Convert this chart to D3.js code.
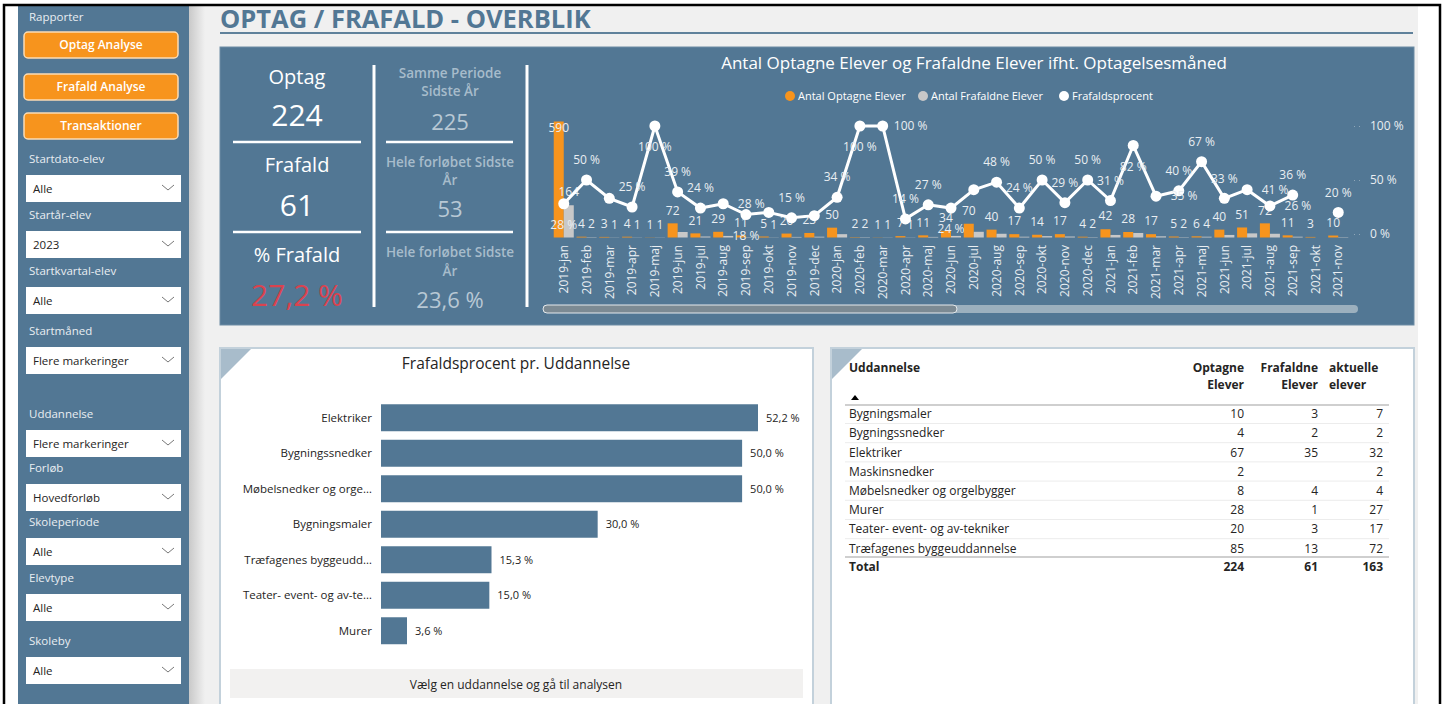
<!DOCTYPE html>
<html>
<head>
<meta charset="utf-8">
<script src="https://cdn.jsdelivr.net/npm/d3@7"></script>
<style>
body{margin:0;background:#fff;}
svg{display:block;font-family:"Open Sans",sans-serif;}
</style>
</head>
<body>
<svg id="chart" width="1445" height="704"></svg>
<script>
// ---- data ----
var months = ["2019-jan","2019-feb","2019-mar","2019-apr","2019-maj","2019-jun","2019-jul","2019-aug","2019-sep","2019-okt","2019-nov","2019-dec",
  "2020-jan","2020-feb","2020-mar","2020-apr","2020-maj","2020-jun","2020-jul","2020-aug","2020-sep","2020-okt","2020-nov","2020-dec",
  "2021-jan","2021-feb","2021-mar","2021-apr","2021-maj","2021-jun","2021-jul","2021-aug","2021-sep","2021-okt","2021-nov"];
var optagne   = [590,4,3,4,1,72,21,29,11,5,20,23, 50,2,1,7,11,34,70,40,17,14,17,4, 42,28,17,5,6,40,51,72,11,3,10];
var frafaldne = [164,2,1,1,1,28,5,8,2,1,3,4, 17,2,1,1,3,8,29,19,4,7,5,2, 13,23,6,2,4,13,21,19,4,0,2];
var frafaldPct = [28,50,33,25,100,39,24,28,18,20,15,17, 34,100,100,14,27,24,41,48,24,50,29,50, 31,82,35,40,67,33,41,26,36,null,20];
var pctTicks = [0,50,100];

var uddannelser = ["Elektriker","Bygningssnedker","Møbelsnedker og orge…","Bygningsmaler","Træfagenes byggeudd…","Teater- event- og av-te…","Murer"];
var uddPct = [52.2,50.0,50.0,30.0,15.3,15.0,3.6];

var tabelUdd = ["Bygningsmaler","Bygningssnedker","Elektriker","Maskinsnedker","Møbelsnedker og orgelbygger","Murer","Teater- event- og av-tekniker","Træfagenes byggeuddannelse"];
var tabelOptagne   = [10,4,67,2,8,28,20,85];
var tabelFrafaldne = [3,2,35,null,4,1,3,13];
var tabelAktuelle  = [7,2,32,2,4,27,17,72];
var tabelTotal = [224,61,163];

var kpiMain = [["Optag","224"],["Frafald","61"],["% Frafald","27,2 %"]];
var kpiLastYear = [["Samme Periode","Sidste År","225"],["Hele forløbet Sidste","År","53"],["Hele forløbet Sidste","År","23,6 %"]];

var knapper = ["Optag Analyse","Frafald Analyse","Transaktioner"];
var filtre = [["Startdato-elev","Alle"],["Startår-elev","2023"],["Startkvartal-elev","Alle"],["Startmåned","Flere markeringer"],
  ["Uddannelse","Flere markeringer"],["Forløb","Hovedforløb"],["Skoleperiode","Alle"],["Elevtype","Alle"],["Skoleby","Alle"]];

// label placement for the percentage line (Power BI moves some of them)
var pctLabelPos = {"2019-jan":"below","2019-maj":"below","2019-aug":"right","2019-sep":"below","2020-feb":"below","2020-mar":"right",
  "2020-jun":"below","2021-feb":"below","2021-mar":"right","2021-jul":"right","2021-aug":"right",
  "2019-mar":"none","2019-okt":"none","2019-dec":"none","2020-jul":"none"};

var blue = "#527794", orange = "#f7941d", grayBar = "#c8c8c8", txt = "#252423", lightTxt = "#e9eef2";

var svg = d3.select("#chart");

// ---- page background ----
var defs = svg.append("defs");
var grad = defs.append("linearGradient").attr("id","shadow");
grad.append("stop").attr("offset","0%").attr("stop-color","#c9c9c9");
grad.append("stop").attr("offset","100%").attr("stop-color","#f0f0f0");

svg.append("rect").attr("width",1445).attr("height",704).attr("fill","#fff");
svg.append("rect").attr("x",189).attr("y",6).attr("width",1229).attr("height",698).attr("fill","#f0f0f0");
svg.append("rect").attr("x",189).attr("y",6).attr("width",16).attr("height",698).attr("fill","url(#shadow)");
svg.append("rect").attr("x",18).attr("y",6).attr("width",171).attr("height",698).attr("fill",blue);
svg.append("path").attr("d","M4,704V5H1440V704").attr("fill","none").attr("stroke","#000").attr("stroke-width",2.5);

// ---- sidebar ----
var side = svg.append("g");
side.append("text").attr("x",29).attr("y",17).attr("dy","0.35em").attr("font-size",11.5).attr("fill",lightTxt).text("Rapporter");
var btnY = [32,74,113];
knapper.forEach(function(k,i){
  side.append("rect").attr("x",24).attr("y",btnY[i]).attr("width",154).attr("height",26).attr("rx",4)
    .attr("fill",orange).attr("stroke","#fbdcb4").attr("stroke-width",1.5);
  side.append("text").attr("x",101).attr("y",btnY[i]+13).attr("dy","0.35em").attr("text-anchor","middle")
    .attr("font-size",12).attr("font-weight",600).attr("fill","#fff").text(k);
});
var filterY = [159,215,271,331,414,468,522,578,641];
filtre.forEach(function(f,i){
  var y = filterY[i];
  side.append("text").attr("x",29).attr("y",y).attr("dy","0.35em").attr("font-size",11.5).attr("fill",lightTxt).text(f[0]);
  side.append("rect").attr("x",26).attr("y",y+16).attr("width",155).attr("height",27).attr("fill","#fff");
  side.append("text").attr("x",33).attr("y",y+29.5).attr("dy","0.35em").attr("font-size",11.5).attr("fill",txt).text(f[1]);
  side.append("path").attr("d","M162,"+(y+26)+"l6,5l6,-5").attr("fill","none").attr("stroke","#777").attr("stroke-width",1);
});

// ---- title ----
svg.append("text").attr("x",220).attr("y",28).attr("font-size",25.5).attr("font-weight",700).attr("fill",blue)
  .text("OPTAG / FRAFALD - OVERBLIK");
svg.append("line").attr("x1",220).attr("x2",1413).attr("y1",33).attr("y2",33).attr("stroke","#5f819b").attr("stroke-width",2);

// ---- top panel ----
svg.append("rect").attr("x",220).attr("y",47).attr("width",1194).attr("height",278).attr("fill",blue)
  .attr("stroke","#6d8ca4").attr("stroke-width",1);

var kpi = svg.append("g");
var kpiY = [[77,115],[165,205],[255,295]];
kpiMain.forEach(function(d,i){
  kpi.append("text").attr("x",297).attr("y",kpiY[i][0]).attr("dy","0.35em").attr("text-anchor","middle")
    .attr("font-size",20).attr("fill","#fff").text(d[0]);
  kpi.append("text").attr("x",297).attr("y",kpiY[i][1]).attr("dy","0.35em").attr("text-anchor","middle")
    .attr("font-size",30).attr("fill",i == 2 ? "#d9434f" : "#fff").text(d[1]);
});
[142,232].forEach(function(y){
  kpi.append("line").attr("x1",233).attr("x2",361).attr("y1",y).attr("y2",y).attr("stroke","#fff").attr("stroke-width",2.5);
  kpi.append("line").attr("x1",386).attr("x2",513).attr("y1",y).attr("y2",y).attr("stroke","#fff").attr("stroke-width",2.5);
});
[374,527].forEach(function(x){
  kpi.append("line").attr("x1",x).attr("x2",x).attr("y1",65).attr("y2",307).attr("stroke","#fff").attr("stroke-width",3);
});
var kpi2Y = [[73,91,122],[162,180,209],[252,271,300]];
kpiLastYear.forEach(function(d,i){
  kpi.append("text").attr("x",450).attr("y",kpi2Y[i][0]).attr("dy","0.35em").attr("text-anchor","middle")
    .attr("font-size",13.5).attr("font-weight",600).attr("fill","#a7bccb").text(d[0]);
  kpi.append("text").attr("x",450).attr("y",kpi2Y[i][1]).attr("dy","0.35em").attr("text-anchor","middle")
    .attr("font-size",13.5).attr("font-weight",600).attr("fill","#a7bccb").text(d[1]);
  kpi.append("text").attr("x",450).attr("y",kpi2Y[i][2]).attr("dy","0.35em").attr("text-anchor","middle")
    .attr("font-size",22).attr("fill","#b8c8d4").text(d[2]);
});

// ---- combo chart ----
var combo = svg.append("g");
combo.append("text").attr("x",974).attr("y",63).attr("dy","0.35em").attr("text-anchor","middle")
  .attr("font-size",17).attr("fill","#fff").text("Antal Optagne Elever og Frafaldne Elever ifht. Optagelsesmåned");

var legend = [["Antal Optagne Elever",orange,790],["Antal Frafaldne Elever",grayBar,923],["Frafaldsprocent","#fff",1064]];
legend.forEach(function(l){
  combo.append("circle").attr("cx",l[2]).attr("cy",96).attr("r",5).attr("fill",l[1]);
  combo.append("text").attr("x",l[2]+8).attr("y",96).attr("dy","0.35em").attr("font-size",11).attr("fill","#fff").text(l[0]);
});

var x = d3.scaleBand().domain(months).range([551,1351]).padding(0.12);
var xSub = d3.scaleBand().domain(["opt","fra"]).range([0,x.bandwidth()]);
var yBar = d3.scaleLinear().domain([0,590]).range([237.5,121.5]);
var yPct = d3.scaleLinear().domain([0,100]).range([234,126]);

var rows = months.map(function(m,i){ return {m:m, o:optagne[i], f:frafaldne[i], p:frafaldPct[i]}; });

var bars = combo.append("g");
rows.forEach(function(d){
  bars.append("rect").attr("x",x(d.m)+xSub("opt")).attr("width",xSub.bandwidth()).attr("y",yBar(d.o))
    .attr("height",yBar(0)-yBar(d.o)).attr("fill",orange);
  bars.append("rect").attr("x",x(d.m)+xSub("fra")).attr("width",xSub.bandwidth()).attr("y",yBar(d.f))
    .attr("height",yBar(0)-yBar(d.f)).attr("fill",grayBar);
});

function barLabelY(v){
  var y = yBar(v) - 13;
  return y < 128 ? yBar(v) + 6 : y;
}
var barLabels = combo.append("g").attr("font-size",12).attr("fill",lightTxt).attr("text-anchor","middle");
rows.forEach(function(d){
  barLabels.append("text").attr("x",x(d.m)+xSub("opt")+xSub.bandwidth()/2).attr("y",barLabelY(d.o)).attr("dy","0.35em").text(d.o);
  if (d.f > 0 && (d.o < 10 || d.f >= 100))
    barLabels.append("text").attr("x",x(d.m)+xSub("fra")+xSub.bandwidth()/2).attr("y",barLabelY(d.f)).attr("dy","0.35em").text(d.f);
});

var cx = function(d){ return x(d.m) + x.bandwidth()/2; };
var line = d3.line().defined(function(d){ return d.p != null; }).x(cx).y(function(d){ return yPct(d.p); });
combo.append("path").datum(rows).attr("d",line).attr("fill","none").attr("stroke","#fff").attr("stroke-width",3);
combo.append("g").selectAll("circle").data(rows.filter(function(d){ return d.p != null; })).enter().append("circle")
  .attr("cx",cx).attr("cy",function(d){ return yPct(d.p); }).attr("r",5.5).attr("fill","#fff");

var pctLabels = combo.append("g").attr("font-size",12).attr("fill",lightTxt).attr("text-anchor","middle");
rows.forEach(function(d){
  if (d.p == null) return;
  var pos = pctLabelPos[d.m] || "above";
  if (pos == "none") return;
  var lx = cx(d), ly = yPct(d.p);
  if (pos == "above") ly -= 20;
  if (pos == "below") ly += 21;
  if (pos == "right") lx += 28;
  pctLabels.append("text").attr("x",lx).attr("y",ly).attr("dy","0.35em").text(d.p + " %");
});

var xAxis = combo.append("g").attr("transform","translate(0,243)")
  .call(d3.axisBottom(x).tickSize(0).tickPadding(0));
xAxis.select(".domain").remove();
xAxis.selectAll("text").attr("transform","rotate(-90)").attr("text-anchor","end").attr("x",-2).attr("y",0)
  .attr("dy","0.35em").attr("font-size",12).attr("font-family","Open Sans").attr("fill",lightTxt);

var yAxis = combo.append("g").attr("transform","translate(1368,0)")
  .call(d3.axisRight(yPct).tickValues(pctTicks).tickSize(0).tickPadding(2).tickFormat(function(d){ return d + " %"; }));
yAxis.select(".domain").remove();
yAxis.selectAll("text").attr("font-size",12).attr("font-family","Open Sans").attr("fill",lightTxt);
yAxis.selectAll(".tick").append("line").attr("x1",-14).attr("x2",-4).attr("stroke","#8ea6b8").attr("stroke-dasharray","1,4");

// scrollbar
combo.append("rect").attr("x",543).attr("y",305).attr("width",815).attr("height",8).attr("rx",4).attr("fill","#9cb0be");
combo.append("rect").attr("x",543).attr("y",305).attr("width",414).attr("height",8).attr("rx",4).attr("fill","#7c8a93")
  .attr("stroke","#e4e9ec").attr("stroke-width",1);

// ---- panels below ----
function panel(x0,w){
  svg.append("rect").attr("x",x0).attr("y",348).attr("width",w).attr("height",360).attr("fill","#fff")
    .attr("stroke","#c3d1db").attr("stroke-width",2);
  svg.append("path").attr("d","M"+(x0+1)+",349h30l-30,30z").attr("fill","#a8bccb");
}
panel(220,593);
panel(831,583);

// bar chart
var bc = svg.append("g");
bc.append("text").attr("x",516).attr("y",364).attr("dy","0.35em").attr("text-anchor","middle").attr("font-size",15.5)
  .attr("fill",txt).text("Frafaldsprocent pr. Uddannelse");
var bx = d3.scaleLinear().domain([0,52.2]).range([381,758]);
var by = d3.scaleBand().domain(uddannelser).range([400,648.5]).paddingInner(0.24).paddingOuter(0.12);
uddannelser.forEach(function(u,i){
  bc.append("rect").attr("x",bx(0)).attr("y",by(u)).attr("width",bx(uddPct[i])-bx(0)).attr("height",by.bandwidth()).attr("fill",blue);
  bc.append("text").attr("x",372).attr("y",by(u)+by.bandwidth()/2).attr("dy","0.35em").attr("text-anchor","end")
    .attr("font-size",11.5).attr("fill",txt).text(u);
  bc.append("text").attr("x",bx(uddPct[i])+8).attr("y",by(u)+by.bandwidth()/2).attr("dy","0.35em")
    .attr("font-size",11).attr("fill",txt).text(d3.format(".1f")(uddPct[i]).replace(".",",") + " %");
});
bc.append("rect").attr("x",230).attr("y",669).attr("width",573).attr("height",29).attr("fill","#f2f1f0");
bc.append("text").attr("x",516).attr("y",685).attr("dy","0.35em").attr("text-anchor","middle").attr("font-size",12)
  .attr("fill",txt).text("Vælg en uddannelse og gå til analysen");

// table
var tb = svg.append("g").attr("font-size",12).attr("fill",txt);
tb.append("text").attr("x",849).attr("y",368).attr("dy","0.35em").attr("font-weight",700).text("Uddannelse");
tb.append("path").attr("d","M851,400l4,-5l4,5z").attr("fill","#000");
var colX = [1244,1318,1383];
[["Optagne","Elever"],["Frafaldne","Elever"]].forEach(function(h,i){
  tb.append("text").attr("x",colX[i]).attr("y",368).attr("dy","0.35em").attr("text-anchor","end").attr("font-weight",700).text(h[0]);
  tb.append("text").attr("x",colX[i]).attr("y",385).attr("dy","0.35em").attr("text-anchor","end").attr("font-weight",700).text(h[1]);
});
tb.append("text").attr("x",1329).attr("y",368).attr("dy","0.35em").attr("font-weight",700).text("aktuelle");
tb.append("text").attr("x",1329).attr("y",385).attr("dy","0.35em").attr("font-weight",700).text("elever");
tb.append("line").attr("x1",845).attr("x2",1389).attr("y1",405).attr("y2",405).attr("stroke","#cfcfcf").attr("stroke-width",2);
var ry = d3.scaleLinear().domain([0,1]).range([414,433.2]);
tabelUdd.forEach(function(u,i){
  var y = ry(i);
  tb.append("text").attr("x",849).attr("y",y).attr("dy","0.35em").text(u);
  [tabelOptagne[i],tabelFrafaldne[i],tabelAktuelle[i]].forEach(function(v,j){
    if (v != null) tb.append("text").attr("x",colX[j]).attr("y",y).attr("dy","0.35em").attr("text-anchor","end").text(v);
  });
  if (i < tabelUdd.length-1)
    tb.append("line").attr("x1",845).attr("x2",1389).attr("y1",y+9.5).attr("y2",y+9.5).attr("stroke","#ececec").attr("stroke-width",1);
});
tb.append("line").attr("x1",845).attr("x2",1389).attr("y1",557).attr("y2",557).attr("stroke","#cfcfcf").attr("stroke-width",2);
tb.append("text").attr("x",849).attr("y",567).attr("dy","0.35em").attr("font-weight",700).text("Total");
tabelTotal.forEach(function(v,j){
  tb.append("text").attr("x",colX[j]).attr("y",567).attr("dy","0.35em").attr("text-anchor","end").attr("font-weight",700).text(v);
});
</script>
</body>
</html>
